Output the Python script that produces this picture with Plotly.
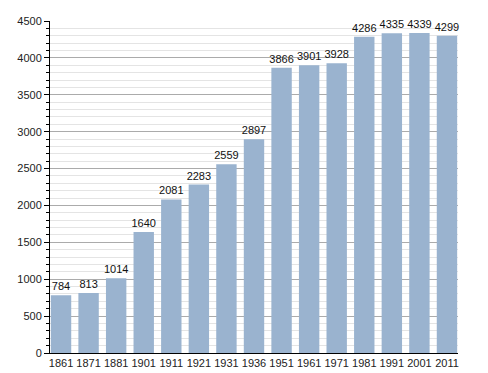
import plotly.graph_objects as go

years = ["1861", "1871", "1881", "1901", "1911", "1921", "1931", "1936",
         "1951", "1961", "1971", "1981", "1991", "2001", "2011"]
population = [784, 813, 1014, 1640, 2081, 2283, 2559, 2897,
              3866, 3901, 3928, 4286, 4335, 4339, 4299]

fig = go.Figure(go.Bar(
    x=list(range(len(years))), y=population,
    width=0.74,
    marker=dict(color="#9ab3cf", line=dict(width=0)),
    text=[str(v) for v in population],
    textposition="outside",
    constraintext="none",
    textfont=dict(family="Liberation Sans, Arial, sans-serif", size=11, color="#111"),
    cliponaxis=False,
))

fig.update_layout(
    width=488, height=373,
    margin=dict(l=50, r=30, t=21, b=20, autoexpand=False),
    paper_bgcolor="white", plot_bgcolor="white",
    showlegend=False,
    font=dict(family="Liberation Sans, Arial, sans-serif", size=11, color="#222"),
    xaxis=dict(
        tickmode="array", tickvals=list(range(len(years))), ticktext=years,
        range=[-0.4, len(years) - 1 + 0.4],
        showgrid=False, showline=True, linecolor="black", linewidth=1,
        ticks="", zeroline=False, automargin=False,
    ),
    yaxis=dict(
        range=[0, 4500], dtick=500, tick0=0,
        showgrid=True, gridcolor="#ababab", gridwidth=1,
        showline=True, linecolor="black", linewidth=1,
        ticks="outside", ticklen=5, tickcolor="black",
        zeroline=False, automargin=False,
        minor=dict(dtick=100, ticks="outside", ticklen=3, tickcolor="black",
                   showgrid=True, gridcolor="#e4e4e4", gridwidth=1),
    ),
)

fig.write_html("out.html",
               config={"displayModeBar": False},
               post_script="document.body.style.margin='0';document.body.style.overflow='hidden';")
